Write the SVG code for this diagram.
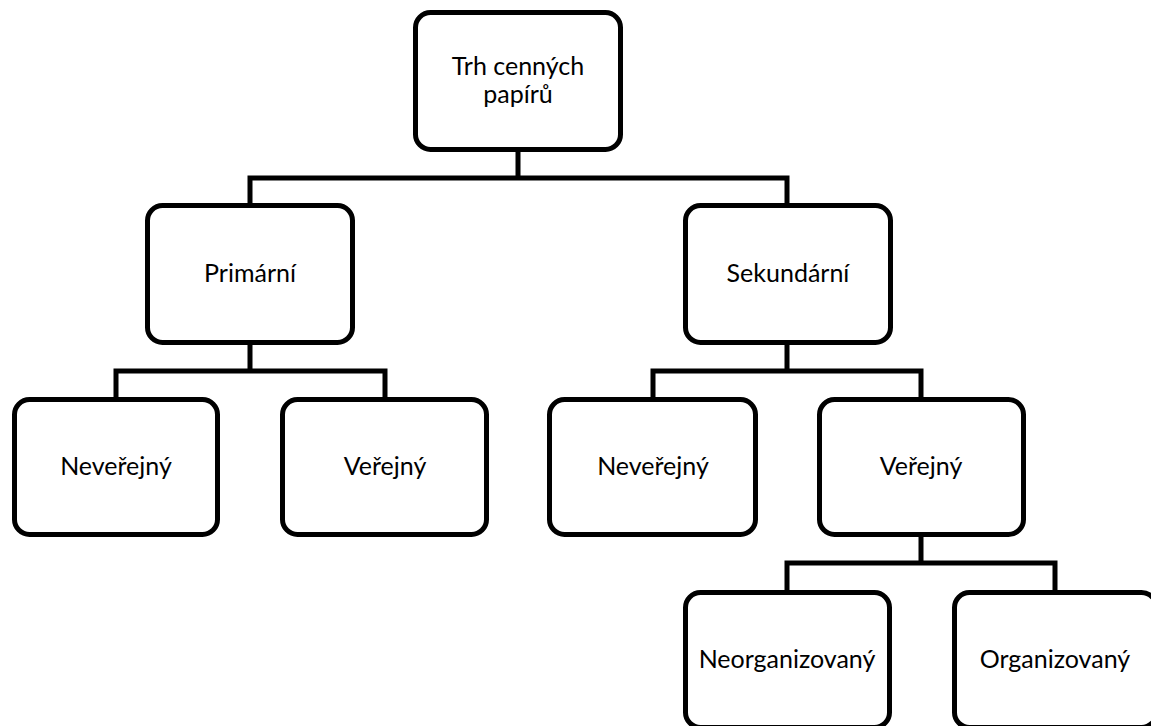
<svg xmlns="http://www.w3.org/2000/svg" width="1151" height="726" viewBox="0 0 1151 726">
  <style>
    .box { fill: #ffffff; stroke: #000000; stroke-width: 5; }
    .link { fill: none; stroke: #000000; stroke-width: 5; stroke-linejoin: miter; stroke-linecap: square; }
    .label { font-family: "Lato", "Liberation Sans", sans-serif; font-size: 25px; fill: #000000; text-anchor: middle; }
  </style>
  <rect x="0" y="0" width="1151" height="726" fill="#ffffff"/>

  <!-- connectors -->
  <g id="connectors">
    <path class="link" d="M518 152 V178 M250 203 V178 H787 V203"/>
    <path class="link" d="M250 345 V371 M116 397 V371 H385 V397"/>
    <path class="link" d="M787 345 V371 M653 397 V371 H921 V397"/>
    <path class="link" d="M921 537 V563 M787 590 V563 H1055 V590"/>
  </g>

  <g id="node-root">
    <rect class="box" x="415.5" y="12.5" width="205" height="137" rx="15"/>
    <text class="label" x="518" y="75">Trh cenných</text>
    <text class="label" x="518" y="103">papírů</text>
  </g>

  <g id="node-primarni">
    <rect class="box" x="147.5" y="205.5" width="205" height="137" rx="15"/>
    <text class="label" x="250" y="282">Primární</text>
  </g>

  <g id="node-sekundarni">
    <rect class="box" x="685.5" y="205.5" width="205" height="137" rx="15"/>
    <text class="label" x="788" y="282">Sekundární</text>
  </g>

  <g id="node-primarni-neverejny">
    <rect class="box" x="14.5" y="399.5" width="203" height="135" rx="15"/>
    <text class="label" x="116" y="475">Neveřejný</text>
  </g>

  <g id="node-primarni-verejny">
    <rect class="box" x="282.5" y="399.5" width="204" height="135" rx="15"/>
    <text class="label" x="385" y="475">Veřejný</text>
  </g>

  <g id="node-sekundarni-neverejny">
    <rect class="box" x="549.5" y="399.5" width="206" height="135" rx="15"/>
    <text class="label" x="653" y="475">Neveřejný</text>
  </g>

  <g id="node-sekundarni-verejny">
    <rect class="box" x="819.5" y="399.5" width="204" height="135" rx="15"/>
    <text class="label" x="921" y="475">Veřejný</text>
  </g>

  <g id="node-neorganizovany">
    <rect class="box" x="685.5" y="592.5" width="204" height="135" rx="15"/>
    <text class="label" x="787" y="668">Neorganizovaný</text>
  </g>

  <g id="node-organizovany">
    <rect class="box" x="954.5" y="592.5" width="202" height="135" rx="15"/>
    <text class="label" x="1055" y="668">Organizovaný</text>
  </g>
</svg>
